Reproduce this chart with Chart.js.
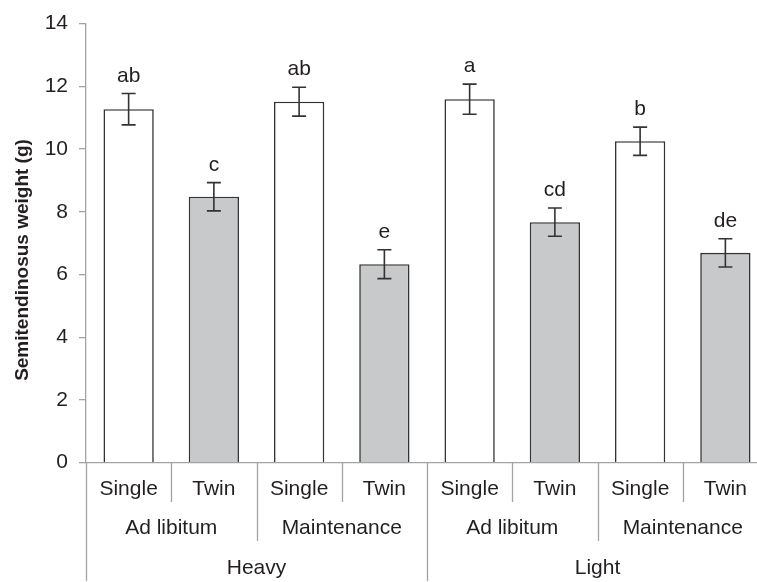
<!DOCTYPE html>
<html>
<head>
<meta charset="utf-8">
<script src="https://cdn.jsdelivr.net/npm/chart.js@4"></script>
<style>
  html, body { margin: 0; padding: 0; background: #fff; overflow: hidden; }
  #wrap { width: 768px; height: 582px; position: relative; }
</style>
</head>
<body>
<div id="wrap"><canvas id="myChart"></canvas></div>
<script>
// data
const litter = ['Single', 'Twin', 'Single', 'Twin', 'Single', 'Twin', 'Single', 'Twin'];
const feeding = ['Ad libitum', 'Maintenance', 'Ad libitum', 'Maintenance'];
const weightClass = ['Heavy', 'Light'];
const means = [11.27, 8.48, 11.51, 6.33, 11.59, 7.67, 10.25, 6.69];
const errs = [0.50, 0.45, 0.46, 0.46, 0.48, 0.45, 0.45, 0.45];
const letters = ['ab', 'c', 'ab', 'e', 'a', 'cd', 'b', 'de'];
const yTicks = [0, 2, 4, 6, 8, 10, 12, 14];

const ink = '#231f20';
const axisGrey = '#a3a3a3';
const fills = litter.map(l => l === 'Single' ? '#ffffff' : '#c8c9cb');
const fontFam = '"Liberation Sans", Arial, sans-serif';

// error bars, letters, nested category axis, y title
const extras = {
  id: 'extras',
  afterDatasetsDraw(chart) {
    const ctx = chart.ctx;
    const x = chart.scales.x, y = chart.scales.y;
    ctx.save();
    ctx.strokeStyle = '#333';
    ctx.lineWidth = 1.6;
    ctx.fillStyle = ink;
    ctx.font = '21px ' + fontFam;
    ctx.textAlign = 'center';
    ctx.textBaseline = 'alphabetic';
    for (let i = 0; i < means.length; i++) {
      const cx = x.getPixelForValue(i);
      const top = y.getPixelForValue(means[i] + errs[i]);
      const bot = y.getPixelForValue(means[i] - errs[i]);
      ctx.beginPath();
      ctx.moveTo(cx, top); ctx.lineTo(cx, bot);
      ctx.moveTo(cx - 7, top); ctx.lineTo(cx + 7, top);
      ctx.moveTo(cx - 7, bot); ctx.lineTo(cx + 7, bot);
      ctx.stroke();
      ctx.fillText(letters[i], cx, top - 12);
    }
    ctx.restore();
  },
  afterDraw(chart) {
    const ctx = chart.ctx;
    const x = chart.scales.x;
    const base = chart.chartArea.bottom;
    const rows = [489, 528, 568];
    const lineEnd = [502, 541, 581];
    ctx.save();
    ctx.strokeStyle = axisGrey;
    ctx.lineWidth = 1.3;
    ctx.fillStyle = ink;
    ctx.font = '21px ' + fontFam;
    ctx.textAlign = 'center';
    ctx.textBaseline = 'middle';
    // separators at each category boundary
    for (let b = 0; b <= litter.length; b++) {
      const bx = Math.round(x.getPixelForValue(b - 0.5)) + 0.5;
      let lvl = 0;
      if (b % 2 === 0) lvl = 1;
      if (b % 4 === 0) lvl = 2;
      ctx.beginPath();
      ctx.moveTo(bx, base);
      ctx.lineTo(bx, lineEnd[lvl]);
      ctx.stroke();
    }
    litter.forEach((t, i) => ctx.fillText(t, x.getPixelForValue(i), rows[0]));
    feeding.forEach((t, i) => ctx.fillText(t, x.getPixelForValue(i * 2 + 0.5), rows[1]));
    weightClass.forEach((t, i) => ctx.fillText(t, x.getPixelForValue(i * 4 + 1.5), rows[2]));
    // y axis title
    ctx.translate(23, 260);
    ctx.rotate(-Math.PI / 2);
    ctx.font = 'bold 19px ' + fontFam;
    ctx.fillText('Semitendinosus weight (g)', 0, 0);
    ctx.restore();
  }
};

const data = {
  labels: litter,
  datasets: [{
    data: means,
    backgroundColor: fills,
    borderColor: '#333',
    borderWidth: 1.6,
    barPercentage: 0.59,
    categoryPercentage: 1
  }]
};

const config = {
  type: 'bar',
  data: data,
  options: {
    responsive: true,
    maintainAspectRatio: false,
    animation: false,
    layout: { padding: { top: 23, left: 0, right: 0, bottom: 0 } },
    plugins: { legend: { display: false }, tooltip: { enabled: false } },
    scales: {
      x: {
        grid: { display: false },
        border: { display: true, color: axisGrey, width: 1.3 },
        ticks: { display: false },
        afterFit(s) { s.height = 119.3; }
      },
      y: {
        min: 0, max: 14,
        afterBuildTicks(s) { s.ticks = yTicks.map(v => ({ value: v })); },
        grid: { drawOnChartArea: false, drawTicks: true, tickLength: 7, color: axisGrey, lineWidth: 1.3 },
        border: { display: true, color: axisGrey, width: 1.3 },
        ticks: {
          color: ink,
          padding: 11,
          font: { family: fontFam, size: 21 }
        },
        afterFit(s) { s.width = 86; }
      }
    }
  },
  plugins: [extras]
};

const myChart = new Chart(document.getElementById('myChart'), config);
</script>
</body>
</html>
